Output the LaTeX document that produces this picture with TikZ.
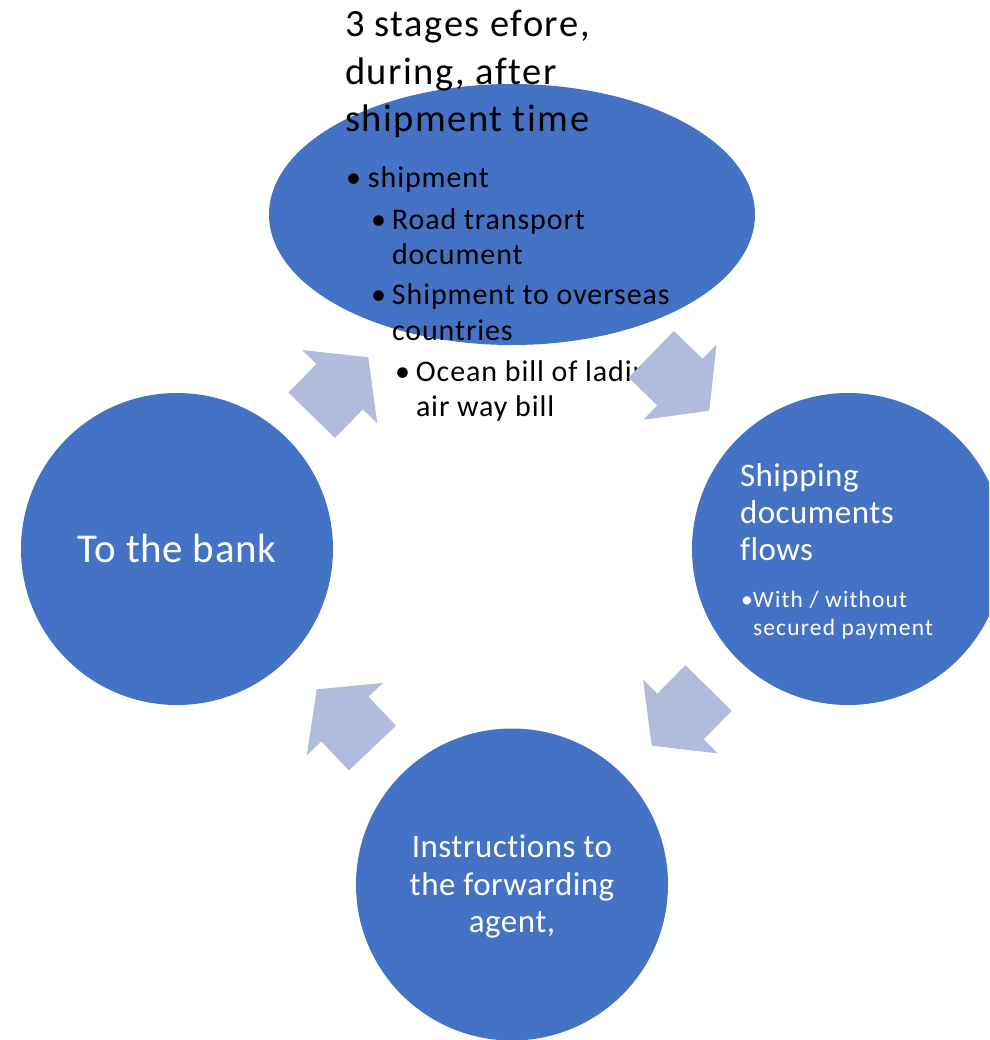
\documentclass[tikz,border=0pt]{standalone}
\usepackage{fontspec}
\setmainfont{Carlito}[Ligatures={NoCommon}]
\newfontfamily\titlefont{Carlito}[Ligatures={NoCommon},LetterSpace=4]
\newfontfamily\itemfont{Carlito}[Ligatures={NoCommon},LetterSpace=3]
\newfontfamily\smallfont{Carlito}[Ligatures={NoCommon},LetterSpace=5]
\newfontfamily\stagefont{Carlito}[Ligatures={NoCommon},LetterSpace=1.5]
\definecolor{stageblue}{HTML}{4472C4}
\definecolor{flowarrow}{HTML}{B0BBDD}
\begin{document}
\begin{tikzpicture}[x=1pt,y=-1pt,
  stage/.style={fill=stageblue,draw=none},
  flow/.style={fill=flowarrow,draw=none},
  txt/.style={inner sep=0pt,outer sep=0pt,anchor=base west},
  ctxt/.style={inner sep=0pt,outer sep=0pt,anchor=base,text=white},
  title/.style={txt,font=\titlefont\fontsize{38.5}{45}\selectfont},
  item/.style={txt,font=\itemfont\fontsize{30}{35}\selectfont},
  wlarge/.style={txt,text=white,font=\stagefont\fontsize{33}{38}\selectfont},
  wsmall/.style={txt,text=white,font=\smallfont\fontsize{23.5}{27}\selectfont},
  mid/.style={ctxt,font=\stagefont\fontsize{33}{38}\selectfont},
  big/.style={ctxt,font=\stagefont\fontsize{41}{48}\selectfont}
]
\useasboundingbox (0,0) rectangle (989,1040);
\clip (0,0) rectangle (989,1040);

% the four stages
\path[stage] (512,214.5) ellipse [x radius=243, y radius=130.5];
\node[stage,circle,minimum size=312pt,inner sep=0pt] (ship) at (848,549) {};
\node[stage,circle,minimum size=312pt,inner sep=0pt] (agent) at (512,884.5) {};
\node[stage,circle,minimum size=312pt,inner sep=0pt] (bank) at (177,549) {};
\coordinate (stages) at (512,214.5);

% heading and bullet list of the top stage
\node[title] (h1) at (345,37) {3 stages efore,};
\node[title] (h2) at (345,84.5) {during, after};
\node[title] (h3) at (345,132) {shipment time};
\node[item] (l1) at (346,188) {\makebox[22pt][l]{•}shipment};
\node[item] (l2) at (371,230) {\makebox[21pt][l]{•}Road transport};
\node[item] (l2b) at (392,265) {document};
\node[item] (l3) at (371,305) {\makebox[21pt][l]{•}Shipment to overseas};
\node[item] (l3b) at (392,340) {countries};
\node[item] (l4) at (395,381) {\makebox[21pt][l]{•}Ocean bill of lading};
\node[item] (l4b) at (416,416) {air way bill};

% right stage
\node[wlarge] (s1) at (740,486) {Shipping};
\node[wlarge] (s2) at (740,523) {documents};
\node[wlarge] (s3) at (740,560) {flows};
\node[wsmall] (s4) at (741,607.5) {\makebox[12pt][l]{•}With / without};
\node[wsmall] (s5) at (753,635) {secured payment};

% bottom stage
\node[mid] (a1) at (512,857.5) {Instructions to};
\node[mid] (a2) at (512,895) {the forwarding};
\node[mid] (a3) at (512,932) {agent,};

% left stage
\node[big] (b1) at (177,562) {To the bank};

% block arrows between the stages (tip at the origin, pointing along +x)
\tikzset{flowshape/.pic={
  \path[flow] (0,0) -- (-41,52.5) -- (-41,32.5) -- (-81,32.5) -- (-81,-32.5)
    -- (-41,-32.5) -- (-41,-52.5) -- cycle;}}
\coordinate (f1) at (368.3,357.3);
\coordinate (f2) at (709.3,410.7);
\coordinate (f3) at (651.7,745.7);
\coordinate (f4) at (316.7,689.3);
\pic[rotate=45.7] at (f1) {flowshape};
\pic[rotate=-44.2] at (f2) {flowshape};
\pic[rotate=225.4] at (f3) {flowshape};
\pic[rotate=133.5] at (f4) {flowshape};
\end{tikzpicture}
\end{document}
